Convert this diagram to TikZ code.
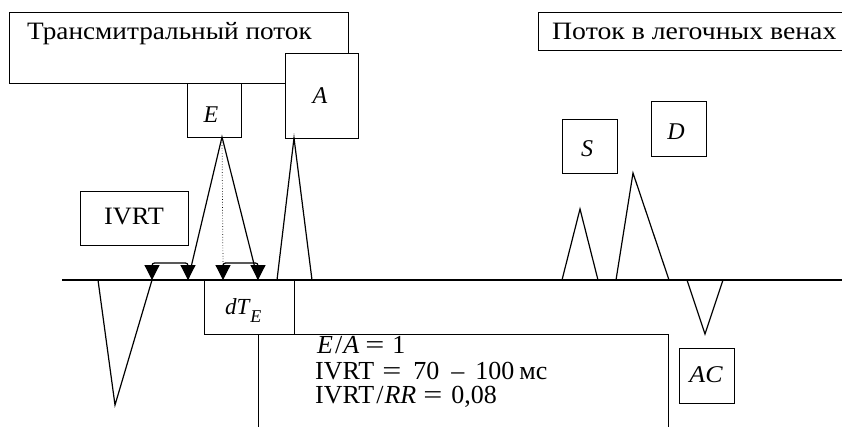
\documentclass[tikz,border=0pt]{standalone}
\usepackage{fontspec}
\setmainfont{Liberation Serif}
\usetikzlibrary{arrows.meta}
\newcommand{\wideq}{\scalebox{1.3}[1]{=}}
\begin{document}
\begin{tikzpicture}[x=1pt,y=-1pt,
  box/.style={draw,line width=1.2pt,fill=white,inner sep=0pt,anchor=north west},
  lbl/.style={font=\fontsize{24}{24}\selectfont\itshape,anchor=base,inner sep=0pt},
  txt/.style={font=\fontsize{25}{25}\selectfont,anchor=base west,inner sep=0pt},
  info/.style={font=\fontsize{26}{26}\selectfont,anchor=base west,inner sep=0pt},
  ln/.style={line width=1.2pt,line join=miter},
  br/.style={line width=1.2pt,rounded corners=2.5pt,{Triangle[width=15pt,length=15pt]}-{Triangle[width=15pt,length=15pt]}}
]
\useasboundingbox (0,0) rectangle (842,426);
\clip (0,0) rectangle (842,426);
% baseline
\coordinate (b0) at (62,280);
\coordinate (b1) at (845,280);
\draw[ln] (b0) -- (b1);
% top boxes
\node[box,minimum width=339pt,minimum height=71pt] (trans) at (9,12) {};
\node[txt] (transtxt) at (27,39) {\scalebox{1.09}[1]{Трансмитральный поток}};
\node[box,minimum width=73pt,minimum height=85pt] (Abox) at (285,53) {};
\node[lbl] (Atxt) at (320,103) {A};
\node[box,minimum width=54pt,minimum height=54pt] (Ebox) at (187,83) {};
\node[lbl] (Etxt) at (211,122) {E};
\node[box,minimum width=320pt,minimum height=38pt] (pot) at (538,12) {};
\node[txt] (pottxt) at (552,39) {\scalebox{1.11}[1]{Поток в легочных венах}};
\node[box,minimum width=108pt,minimum height=54pt] (ivrtbox) at (80,191) {};
\node[txt,anchor=base] (ivrttxt) at (134,224) {\scalebox{1.05}[1]{IVRT}};
\node[box,minimum width=55pt,minimum height=54pt] (Sbox) at (562,119) {};
\node[lbl] (Stxt) at (587,156) {S};
\node[box,minimum width=55pt,minimum height=55pt] (Dbox) at (651,101) {};
\node[lbl] (Dtxt) at (676,139) {D};
\node[box,minimum width=55pt,minimum height=55pt] (ACbox) at (679,348) {};
\node[lbl] (ACtxt) at (706,382) {\scalebox{1.08}[1]{AC}};
% info box
\node[box,minimum width=410pt,minimum height=120pt] (info) at (258,334) {};
\node[box,minimum width=90pt,minimum height=54pt] (dTbox) at (204,280) {};
\node[lbl,anchor=base west,font=\fontsize{23}{23}\selectfont\itshape] (dTtxt) at (225,314) {dT\kern1pt\raisebox{-8pt}{\fontsize{18}{18}\selectfont E}};
\node[info] (l1) at (317,353) {\textit{E}\kern2pt/\kern1pt\textit{A}\hspace{6pt}\wideq\hspace{8pt}1};
\node[info] (l2) at (315,379) {IVRT\hspace{8pt}\wideq\hspace{12pt}70\hspace{12pt}–\hspace{11pt}100\hspace{5pt}мс};
\node[info] (l3) at (315,403) {IVRT\kern2pt/\kern1pt\textit{RR}\hspace{7pt}\wideq\hspace{9pt}0,08};
% peaks
\coordinate (Eapex) at (222,137);
\coordinate (Aapex) at (294,138);
\coordinate (t1) at (152,280);
\coordinate (t2) at (188,280);
\coordinate (t3) at (223,280);
\coordinate (t4) at (258,280);
\coordinate (ivmin) at (115,405);
\coordinate (iv0) at (98,280);
\draw[ln] (iv0) -- (ivmin) -- (t1);
\draw[ln] (t2) -- (Eapex) -- (t4);
\draw[line width=0.7pt,dotted] (Eapex) -- (223,265);
\coordinate (a0) at (277,280);
\coordinate (a1) at (312,280);
\draw[ln] (a0) -- (Aapex) -- (a1);
\draw[br] (t1) -- ++(0,-17) -| (t2);
\draw[br] (t3) -- ++(0,-17) -| (t4);
% pulmonary
\coordinate (s0) at (562,280);
\coordinate (sapex) at (580,209);
\coordinate (s1) at (598,280);
\draw[ln] (s0) -- (sapex) -- (s1);
\coordinate (d0) at (616,280);
\coordinate (dapex) at (633,173);
\coordinate (d1) at (669,280);
\draw[ln] (d0) -- (dapex) -- (d1);
\coordinate (ac0) at (687,280);
\coordinate (acmin) at (705,334);
\coordinate (ac1) at (723,280);
\draw[ln] (ac0) -- (acmin) -- (ac1);
\end{tikzpicture}
\end{document}
